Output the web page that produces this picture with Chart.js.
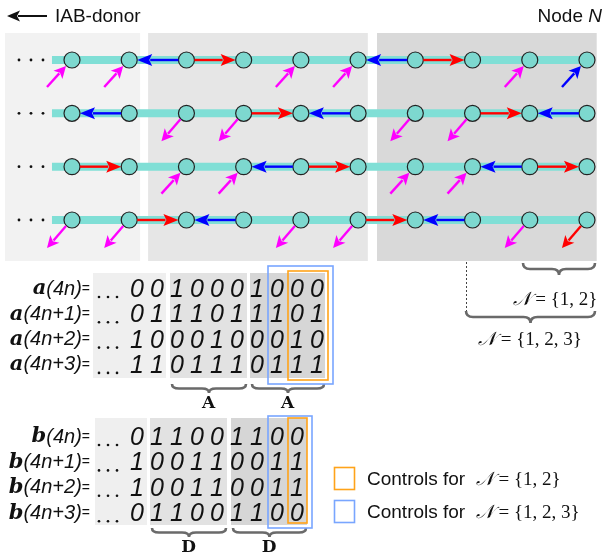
<!DOCTYPE html>
<html>
<head>
<meta charset="utf-8">
<script src="https://cdn.jsdelivr.net/npm/chart.js@4/dist/chart.umd.min.js"></script>
<style>
  html, body { margin: 0; background: #fff; }
  canvas { display: block; }
</style>
</head>
<body>
<canvas id="diagram" width="605" height="556"></canvas>
<script>
// nodes along each chain and the four time slots (rows)
const nodes = [0, 1, 2, 3, 4, 5, 6, 7, 8, 9];
const rows = [0, 1, 2, 3];
// link between node k and k+1: 'R' = k -> k+1 (red), 'B' = k+1 -> k (blue)
const links = [
  ['', 'B', 'R', '', '', 'B', 'R', '', ''],
  ['B', '', '', 'R', 'B', '', '', 'R', 'B'],
  ['R', '', '', 'B', 'R', '', '', 'B', 'R'],
  ['', 'R', 'B', '', '', 'R', 'B', '', '']
];
// access link per node: in = into node, out = from node
const access = [
  ['in', 'in', '', '', 'in', 'in', '', '', 'in', 'inB'],
  ['', '', 'out', 'out', '', '', 'out', 'out', '', ''],
  ['', '', 'in', 'in', '', '', 'in', 'in', '', ''],
  ['out', 'out', '', '', 'out', 'out', '', '', 'out', 'outR']
];
const rowLabels = ['(4n)', '(4n+1)', '(4n+2)', '(4n+3)'];
const aBits = ['0010001000', '0111011101', '1000100010', '1101110111'];
const bBits = ['011001100', '100110011', '100110011', '011001100'];
const aGroups = ['A', 'A'];
const bGroups = ['D', 'D'];
const setSmall = '{1, 2}';
const setLarge = '{1, 2, 3}';

const X0 = 72, DX = 57.22, Y0 = 60, DY = 53.33;
const W = 605, H = 556;
const SCRIPT_N = '\u{1D4A9}';

function arrow(ctx, x1, y1, x2, y2, color, lw, hl, hw) {
  const a = Math.atan2(y2 - y1, x2 - x1);
  const c = Math.cos(a), s = Math.sin(a);
  const bx = x2 - hl * c, by = y2 - hl * s;
  ctx.strokeStyle = color;
  ctx.lineWidth = lw;
  ctx.beginPath();
  ctx.moveTo(x1, y1);
  ctx.lineTo(bx + 2 * c, by + 2 * s);
  ctx.stroke();
  ctx.fillStyle = color;
  ctx.beginPath();
  ctx.moveTo(x2, y2);
  ctx.lineTo(bx - hw * s, by + hw * c);
  ctx.lineTo(bx + 3 * c, by + 3 * s);
  ctx.lineTo(bx + hw * s, by - hw * c);
  ctx.closePath();
  ctx.fill();
}

function brace(ctx, x1, x2, y, h) {
  const m = (x1 + x2) / 2, r = 7, yh = y + h / 2;
  ctx.strokeStyle = '#6a6a6a';
  ctx.lineWidth = 2.6;
  ctx.beginPath();
  ctx.moveTo(x1, y);
  ctx.quadraticCurveTo(x1, yh, x1 + r, yh);
  ctx.lineTo(m - r, yh);
  ctx.quadraticCurveTo(m, yh, m, y + h);
  ctx.quadraticCurveTo(m, yh, m + r, yh);
  ctx.lineTo(x2 - r, yh);
  ctx.quadraticCurveTo(x2, yh, x2, y);
  ctx.stroke();
}

// draw text pieces in different fonts one after another
function runs(ctx, parts, x, y, align) {
  let total = 0;
  parts.forEach(p => { ctx.font = p[1]; total += ctx.measureText(p[0]).width; });
  let cx = align === 'right' ? x - total : align === 'center' ? x - total / 2 : x;
  ctx.textAlign = 'left';
  ctx.textBaseline = 'middle';
  parts.forEach(p => {
    ctx.font = p[1];
    ctx.fillStyle = p[2] || '#111';
    ctx.fillText(p[0], cx, y);
    cx += ctx.measureText(p[0]).width;
  });
}

function setText(label) {
  return [[SCRIPT_N, "italic 19px 'DejaVu Serif'"], [' = ' + label, "19px 'Liberation Serif'"]];
}

function dots(ctx, x, y) {
  ctx.fillStyle = '#111';
  [0, 12, 24].forEach(d => { ctx.beginPath(); ctx.arc(x + d, y, 1.4, 0, Math.PI * 2); ctx.fill(); });
}

function matrix(ctx, name, bits, y0, dy, bg, groups, braceY) {
  const colX = k => 137 + 20 * k;
  bg.forEach(b => { ctx.fillStyle = b[2]; ctx.fillRect(b[0], b[3], b[1] - b[0], b[4] - b[3]); });
  bits.forEach((row, i) => {
    const y = y0 + dy * i;
    runs(ctx, [[name, "bold italic 21px 'DejaVu Serif'"], [rowLabels[i], "italic 20px 'Liberation Sans'"], ['=', "14px 'Liberation Sans'"]], 90, y, 'right');
    [0, 9, 18].forEach(d => { ctx.beginPath(); ctx.arc(99 + d, y + 8, 1.3, 0, Math.PI * 2); ctx.fill(); });
    ctx.font = "italic 25px 'Liberation Sans'";
    ctx.textAlign = 'center';
    ctx.textBaseline = 'middle';
    ctx.fillStyle = '#111';
    row.split('').forEach((c, k) => ctx.fillText(c, colX(k), y + 1));
  });
  groups.forEach((g, j) => {
    const b = bg[j + 1];
    brace(ctx, b[0] + 2, b[1] - 1, braceY, 9);
    ctx.font = "bold 17px 'DejaVu Serif'";
    ctx.textAlign = 'center';
    ctx.textBaseline = 'middle';
    ctx.fillStyle = '#111';
    ctx.fillText(g, (b[0] + b[1]) / 2, braceY + 20);
  });
}

const diagramPlugin = {
  id: 'diagram',
  beforeDatasetsDraw(chart) {
    const ctx = chart.ctx;
    const xs = chart.scales.x;
    ctx.save();
    // shaded node groups
    [[-1.17, 1.19, '#f2f2f2'], [1.33, 5.17, '#e6e6e6'], [5.33, 9.17, '#d9d9d9']].forEach(p => {
      const l = xs.getPixelForValue(p[0]), r = xs.getPixelForValue(p[1]);
      ctx.fillStyle = p[2];
      ctx.fillRect(l, 33, r - l, 228);
    });
    ctx.restore();
  },
  afterDatasetsDraw(chart) {
    const ctx = chart.ctx;
    const xs = chart.scales.x, ys = chart.scales.y;
    ctx.save();
    rows.forEach(r => {
      const y = ys.getPixelForValue(r);
      dots(ctx, 19, y);
      links[r].forEach((l, k) => {
        const xa = xs.getPixelForValue(nodes[k]), xb = xs.getPixelForValue(nodes[k + 1]);
        if (l === 'R') arrow(ctx, xa + 8, y, xb - 8, y, '#ff0000', 2.4, 15, 6);
        if (l === 'B') arrow(ctx, xb - 8, y, xa + 8, y, '#0000ff', 2.4, 15, 6);
      });
      access[r].forEach((a, k) => {
        const x = xs.getPixelForValue(nodes[k]);
        if (a.startsWith('in')) {
          arrow(ctx, x - 25, y + 27, x - 6, y + 6, a === 'inB' ? '#0000ff' : '#ff00ff', 2.4, 12, 6);
        } else if (a.startsWith('out')) {
          arrow(ctx, x - 6, y + 6, x - 25, y + 28, a === 'outR' ? '#ff0000' : '#ff00ff', 2.4, 12, 6);
        }
      });
    });

    // header
    arrow(ctx, 47, 16, 7, 16, '#111', 2, 13, 5.5);
    runs(ctx, [['IAB-donor', "19px 'Liberation Sans'"]], 55, 17, 'left');
    runs(ctx, [['Node ', "19px 'Liberation Sans'"], ['N', "italic 19px 'Liberation Sans'"]], 602, 17, 'right');

    // controlled node sets
    brace(ctx, 523, 595, 263, 12);
    brace(ctx, 466, 595, 311, 12);
    ctx.strokeStyle = '#444';
    ctx.lineWidth = 1;
    ctx.setLineDash([2, 2]);
    ctx.beginPath();
    ctx.moveTo(466.5, 262);
    ctx.lineTo(466.5, 311);
    ctx.stroke();
    ctx.setLineDash([]);
    runs(ctx, setText(setSmall), 555, 300, 'center');
    runs(ctx, setText(setLarge), 530, 340, 'center');

    // bit matrices
    matrix(ctx, 'a', aBits, 289, 25.3,
      [[93, 166, '#efefef', 273, 378], [170, 247, '#e2e2e2', 273, 378], [250, 325, '#d6d6d6', 273, 378]],
      aGroups, 384);
    matrix(ctx, 'b', bBits, 437, 25.4,
      [[95, 147, '#efefef', 418, 525], [150, 227, '#e2e2e2', 418, 525], [231, 307, '#d6d6d6', 418, 525]],
      bGroups, 528);

    // control boxes
    ctx.lineWidth = 1.6;
    ctx.strokeStyle = '#79a6ff';
    ctx.strokeRect(268, 266, 65, 118);
    ctx.strokeRect(268, 416, 44, 112);
    ctx.strokeStyle = '#ffa31a';
    ctx.strokeRect(288, 271, 40, 109);
    ctx.strokeRect(288, 418, 19, 105);

    // legend
    ctx.strokeStyle = '#ffa31a';
    ctx.strokeRect(334.5, 467.5, 20, 22);
    ctx.strokeStyle = '#79a6ff';
    ctx.strokeRect(334.5, 500.5, 20, 22);
    runs(ctx, [['Controls for  ', "19px 'Liberation Sans'"]].concat(setText(setSmall)), 367, 480, 'left');
    runs(ctx, [['Controls for  ', "19px 'Liberation Sans'"]].concat(setText(setLarge)), 367, 513, 'left');
    ctx.restore();
  }
};

const lineSets = rows.map(r => ({
  data: [{ x: -0.35, y: r }, { x: nodes[nodes.length - 1], y: r }],
  showLine: true,
  borderColor: '#80dfd6',
  borderWidth: 8,
  pointRadius: 0,
  order: 2
}));

const nodeSet = {
  data: rows.flatMap(r => nodes.map(n => ({ x: n, y: r }))),
  pointRadius: 8,
  pointBackgroundColor: '#7dd8cf',
  pointBorderColor: '#222',
  pointBorderWidth: 1.2,
  order: 1
};

new Chart(document.getElementById('diagram'), {
  type: 'scatter',
  data: { datasets: [nodeSet].concat(lineSets) },
  options: {
    responsive: false,
    animation: false,
    events: [],
    clip: false,
    layout: { padding: 0, autoPadding: false },
    scales: {
      x: { type: 'linear', display: false, min: -X0 / DX, max: (W - X0) / DX },
      y: { type: 'linear', display: false, reverse: true, min: -Y0 / DY, max: (H - Y0) / DY }
    },
    plugins: { legend: { display: false }, tooltip: { enabled: false } }
  },
  plugins: [diagramPlugin]
});
</script>
</body>
</html>
